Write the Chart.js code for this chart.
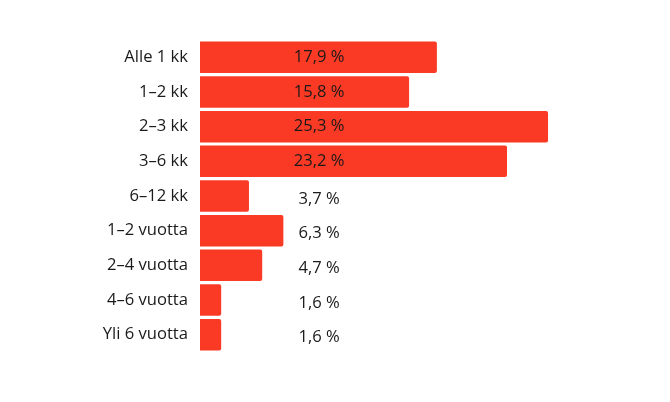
<!DOCTYPE html>
<html>
<head>
<meta charset="utf-8">
<script src="https://cdn.jsdelivr.net/npm/chart.js@4"></script>
<style>
html,body{margin:0;padding:0;background:#fff;}
#wrap{width:670px;height:402px;position:relative;}
</style>
</head>
<body>
<div id="wrap"><canvas id="c" width="670" height="402"></canvas></div>
<script>
const categories = ["Alle 1 kk","1–2 kk","2–3 kk","3–6 kk","6–12 kk","1–2 vuotta","2–4 vuotta","4–6 vuotta","Yli 6 vuotta"];
const values = [17.9, 15.8, 26.3, 23.2, 3.7, 6.3, 4.7, 1.6, 1.6];
const valueLabels = ["17,9 %","15,8 %","25,3 %","23,2 %","3,7 %","6,3 %","4,7 %","1,6 %","1,6 %"];
const labelAnchorValue = 9;

const FONT = "'Open Sans', sans-serif";
const FONT_SIZE = 16.6;

const labelPlugin = {
  id: 'valueLabels',
  afterDatasetsDraw(chart) {
    const ctx = chart.ctx;
    const meta = chart.getDatasetMeta(0);
    const xs = chart.scales.x;
    ctx.save();
    ctx.font = FONT_SIZE + "px " + FONT;
    ctx.fillStyle = "#1a1a1a";
    ctx.textAlign = "center";
    ctx.textBaseline = "middle";
    const x = xs.getPixelForValue(labelAnchorValue);
    meta.data.forEach((bar, i) => {
      const outside = values[i] < labelAnchorValue;
      ctx.fillText(valueLabels[i], x, bar.y + (outside ? 3 : 0));
    });
    ctx.restore();
  }
};

new Chart(document.getElementById('c'), {
  type: 'bar',
  data: {
    labels: categories,
    datasets: [{
      data: values,
      backgroundColor: '#FA3A25',
      borderWidth: 0,
      borderRadius: 2,
      categoryPercentage: 1,
      barPercentage: 0.91
    }]
  },
  options: {
    indexAxis: 'y',
    responsive: false,
    animation: false,
    layout: { padding: { left: 0, right: 73, top: 40, bottom: 50 } },
    plugins: { legend: { display: false }, tooltip: { enabled: false } },
    scales: {
      x: { display: false, min: 0, max: 30 },
      y: {
        grid: { display: false, drawTicks: false },
        border: { display: false },
        ticks: { padding: 12, color: '#1a1a1a', font: { family: FONT, size: FONT_SIZE } },
        afterFit(scale) { scale.width = 200; }
      }
    }
  },
  plugins: [labelPlugin]
});
</script>
</body>
</html>
